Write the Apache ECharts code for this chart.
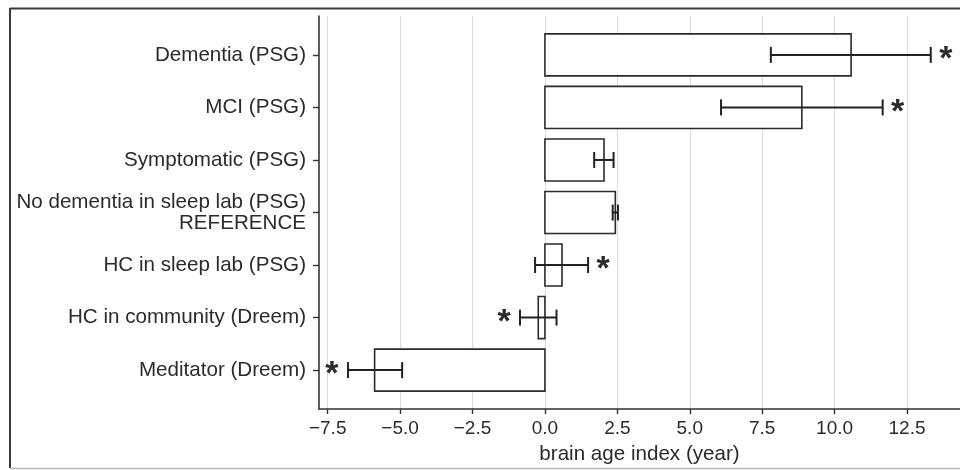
<!DOCTYPE html>
<html>
<head>
<meta charset="utf-8">
<script src="https://cdn.jsdelivr.net/npm/echarts@6/dist/echarts.min.js"></script>
<style>
html,body{margin:0;padding:0;background:#fff;}
#chart{width:960px;height:470px;}
</style>
</head>
<body>
<div id="chart"></div>
<script>
const categories = ['Dementia (PSG)', 'MCI (PSG)', 'Symptomatic (PSG)', 'No dementia in sleep lab (PSG)\nREFERENCE', 'HC in sleep lab (PSG)', 'HC in community (Dreem)', 'Meditator (Dreem)'];
const meanBAI = [10.57, 8.87, 2.04, 2.43, 0.59, -0.23, -5.88];
const ciLow = [7.80, 6.08, 1.70, 2.34, -0.34, -0.86, -6.80];
const ciHigh = [13.32, 11.66, 2.37, 2.52, 1.49, 0.40, -4.93];
const significance = ['right', 'right', '', '', 'right', 'left', 'left'];
const xTicks = [-7.5, -5.0, -2.5, 0.0, 2.5, 5.0, 7.5, 10.0, 12.5];
const yTicks = [0, 1, 2, 3, 4, 5, 6];
const xTitle = 'brain age index (year)';

const ink = '#2b2b2b';
const chart = echarts.init(document.getElementById('chart'), null, {renderer: 'canvas'});

function fmtX(v) {
  const s = Math.abs(v).toFixed(1);
  return v < 0 ? '\u2212' + s : s;
}

const option = {
  animation: false,
  backgroundColor: '#ffffff',
  textStyle: {fontFamily: 'Liberation Sans, Arial, sans-serif'},
  graphic: [
    {type: 'line', shape: {x1: 10, y1: 8.5, x2: 960, y2: 8.5}, style: {stroke: '#3a3a3a', lineWidth: 2}, silent: true},
    {type: 'line', shape: {x1: 10, y1: 8, x2: 10, y2: 468}, style: {stroke: '#3a3a3a', lineWidth: 2}, silent: true},
    {type: 'line', shape: {x1: 10, y1: 468.5, x2: 960, y2: 468.5}, style: {stroke: '#bbbbbb', lineWidth: 1.5}, silent: true}
  ],
  grid: {left: 319, right: -3, top: 16, bottom: 61, containLabel: false},
  xAxis: {
    type: 'value',
    min: -7.80,
    max: 14.33,
    name: xTitle,
    nameLocation: 'middle',
    nameGap: 43,
    nameTextStyle: {fontSize: 20.6, color: ink, fontFamily: 'Liberation Sans', verticalAlign: 'middle'},
    axisLine: {show: true, onZero: false, lineStyle: {color: '#333', width: 1.6}},
    axisTick: {show: true, length: 5, customValues: xTicks, lineStyle: {color: '#333', width: 1.4}},
    axisLabel: {customValues: xTicks, formatter: fmtX, fontSize: 19, color: ink, fontFamily: 'Liberation Sans', margin: 20, verticalAlign: 'middle'},
    splitLine: {show: true, lineStyle: {color: '#dcdcdc', width: 1.2}}
  },
  yAxis: {
    type: 'value',
    inverse: true,
    min: -0.74,
    max: 6.74,
    axisLine: {show: true, onZero: false, lineStyle: {color: '#333', width: 1.6}},
    axisTick: {show: true, length: 6, customValues: yTicks, lineStyle: {color: '#333', width: 1.4}},
    axisLabel: {
      customValues: yTicks,
      formatter: function (v) { return categories[Math.round(v)] || ''; },
      fontSize: 20.6, color: ink, fontFamily: 'Liberation Sans', margin: 13, align: 'right', lineHeight: 21
    },
    splitLine: {show: false}
  },
  series: [{
    type: 'custom',
    coordinateSystem: 'cartesian2d',
    encode: {x: 1, y: 0},
    data: meanBAI.map(function (m, i) { return [i, m, ciLow[i], ciHigh[i]]; }),
    renderItem: function (params, api) {
      const i = api.value(0);
      const m = api.value(1);
      const lo = api.value(2);
      const hi = api.value(3);
      const p0 = api.coord([0, i - 0.4]);
      const p1 = api.coord([m, i + 0.4]);
      const pc = api.coord([0, i]);
      const pl = api.coord([lo, i]);
      const ph = api.coord([hi, i]);
      const cap = 8;
      const children = [
        {type: 'rect', shape: {x: Math.min(p0[0], p1[0]), y: Math.min(p0[1], p1[1]), width: Math.abs(p1[0] - p0[0]), height: Math.abs(p1[1] - p0[1])},
          style: {fill: '#ffffff', stroke: '#2b2b2b', lineWidth: 1.6}},
        {type: 'line', shape: {x1: pl[0], y1: pc[1], x2: ph[0], y2: pc[1]}, style: {stroke: '#222', lineWidth: 2}},
        {type: 'line', shape: {x1: pl[0], y1: pc[1] - cap, x2: pl[0], y2: pc[1] + cap}, style: {stroke: '#222', lineWidth: 2}},
        {type: 'line', shape: {x1: ph[0], y1: pc[1] - cap, x2: ph[0], y2: pc[1] + cap}, style: {stroke: '#222', lineWidth: 2}}
      ];
      const sig = significance[params.dataIndex];
      if (sig) {
        const sx = sig === 'right' ? ph[0] + 15 : pl[0] - 16;
        children.push({type: 'text', style: {text: '*', x: sx, y: pc[1] + 5, align: 'center', verticalAlign: 'middle',
          fontSize: 34, fontWeight: 'bold', fontFamily: 'Liberation Sans', fill: '#2a2a2a'}});
      }
      return {type: 'group', children: children};
    }
  }]
};
chart.setOption(option);
</script>
</body>
</html>
